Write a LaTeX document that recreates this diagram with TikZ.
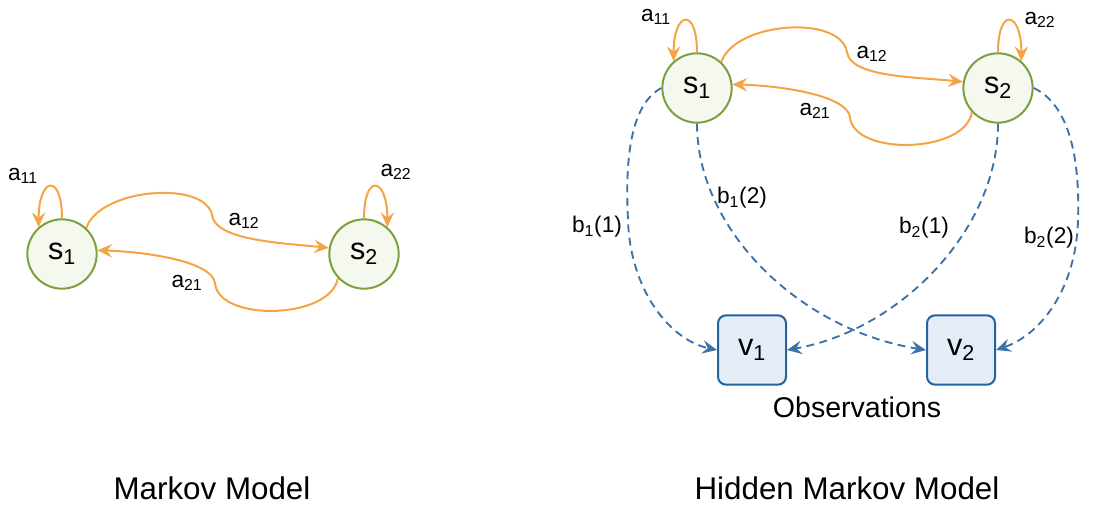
\documentclass[tikz,border=0pt]{standalone}
\usepackage{fontspec}
\setmainfont{Liberation Sans}
\usetikzlibrary{arrows.meta}
\definecolor{orng}{HTML}{F5A445}
\definecolor{sgreen}{HTML}{7DA03F}
\definecolor{sfill}{HTML}{F4F8EE}
\definecolor{oblue}{HTML}{2364A0}
\definecolor{ofill}{HTML}{E4ECF7}
\definecolor{dblue}{HTML}{3C72A6}
\begin{document}
\begin{tikzpicture}[x=0.75pt,y=-0.75pt,
  state/.style={circle, draw=sgreen, fill=sfill, line width=1.5pt, minimum size=52pt, inner sep=0pt, font=\fontsize{23}{27}\selectfont},
  obs/.style={rectangle, rounded corners=6pt, draw=oblue, fill=ofill, line width=1.5pt, minimum width=51pt, minimum height=52pt, inner sep=0pt, font=\fontsize{23}{27}\selectfont},
  tr/.style={draw=orng, line width=1.5pt, -{Stealth[length=11pt,width=10pt,inset=4pt]}},
  em/.style={draw=dblue, line width=1.4pt, dash pattern=on 6pt off 4pt, -{Stealth[length=11pt,width=10pt,inset=4pt]}},
  lbl/.style={font=\fontsize{17}{20}\selectfont, inner sep=0pt},
  ttl/.style={font=\fontsize{23.5}{28}\selectfont, inner sep=0pt}]
\useasboundingbox (0,0) rectangle (1107,507);
% ---------- Markov model ----------
\begin{scope}
\node[state] (s1) at (62,254) {s\textsubscript{1}};
\node[state] (s2) at (364,254) {s\textsubscript{2}};
\draw[tr] (s1.90) .. controls +(0,-46) and +(0,-50) .. (s1.131);
\draw[tr] (s2.90) .. controls +(0,-46) and +(0,-50) .. (s2.49);
\draw[tr] (s1.47) .. controls (100,188) and (205,180) .. (212,215) .. controls (215,240) and (280,243) .. (s2.170);
\draw[tr] (s2.223) .. controls (330,320) and (218,322) .. (215,283) .. controls (212,262) and (150,252) .. (s1.6);
\end{scope}
\node[lbl] (la11) at (23,176) {a\textsubscript{11}};
\node[lbl] (la22) at (396,172) {a\textsubscript{22}};
\node[lbl] (la12) at (244,221) {a\textsubscript{12}};
\node[lbl] (la21) at (187,283) {a\textsubscript{21}};
\node[ttl] (t1) at (212,488) {Markov Model};
% ---------- Hidden Markov model ----------
\begin{scope}[shift={(635,-166)}]
\node[state] (h1) at (62,254) {s\textsubscript{1}};
\node[state] (h2) at (363,254) {s\textsubscript{2}};
\draw[tr] (h1.90) .. controls +(0,-46) and +(0,-50) .. (h1.131);
\draw[tr] (h2.90) .. controls +(0,-46) and +(0,-50) .. (h2.49);
\draw[tr] (h1.47) .. controls (100,188) and (205,180) .. (212,218) .. controls (215,243) and (280,243) .. (h2.170);
\draw[tr] (h2.223) .. controls (330,320) and (218,322) .. (215,283) .. controls (212,262) and (150,252) .. (h1.6);
\end{scope}
\node[lbl] (ha11) at (656,17) {a\textsubscript{11}};
\node[lbl] (ha22) at (1040,20) {a\textsubscript{22}};
\node[lbl] (ha12) at (872,54) {a\textsubscript{12}};
\node[lbl] (ha21) at (815,111) {a\textsubscript{21}};
\node[obs] (v1) at (752,350) {v\textsubscript{1}};
\node[obs] (v2) at (961,350) {v\textsubscript{2}};
\draw[em] (h1.west) .. controls (630,105) and (625,160) .. (628,220) .. controls (630,290) and (670,340) .. (v1.west);
\draw[em] (h1.south) .. controls (697,230) and (800,330) .. (v2.west);
\draw[em] (h2.south) .. controls (998,230) and (900,330) .. (v1.east);
\draw[em] (h2.east) .. controls (1070,105) and (1080,160) .. (1078,220) .. controls (1076,290) and (1040,335) .. (v2.east);
\node[lbl] (lb11) at (597,227) {b\textsubscript{1}(1)};
\node[lbl] (lb12) at (742,198) {b\textsubscript{1}(2)};
\node[lbl] (lb21) at (924,228) {b\textsubscript{2}(1)};
\node[lbl] (lb22) at (1049,238) {b\textsubscript{2}(2)};
\node[font=\fontsize{21.4}{26}\selectfont, inner sep=0pt] (obsl) at (857,407) {Observations};
\node[ttl] (t2) at (847,488) {Hidden Markov Model};
\end{tikzpicture}
\end{document}
